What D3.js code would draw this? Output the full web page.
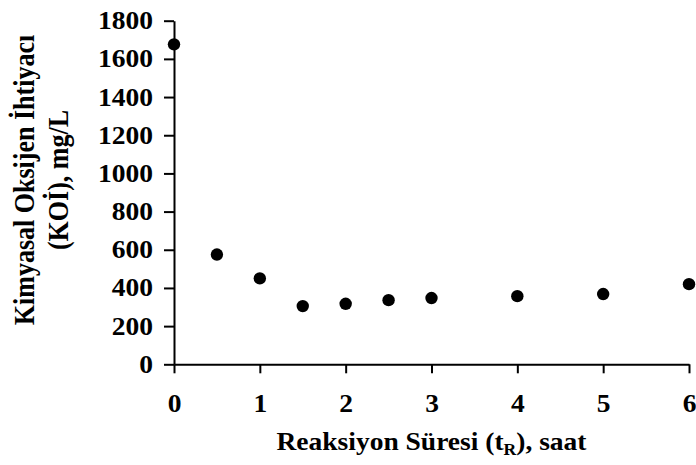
<!DOCTYPE html>
<html>
<head>
<meta charset="utf-8">
<script src="https://cdn.jsdelivr.net/npm/d3@7"></script>
<style>
  html, body { margin: 0; padding: 0; background: #fff; }
  svg text { font-family: "Liberation Serif", "Times New Roman", serif; font-weight: bold; fill: #000; }
</style>
</head>
<body>
<svg id="chart" width="696" height="465"></svg>
<script>
// Reaction time (hours) and COD (mg/L)
const times = [0, 0.5, 1, 1.5, 2, 2.5, 3, 4, 5, 6];
const cod = [1676, 575, 450, 305, 317, 336, 347, 357, 368, 420];
const xTicks = [0, 1, 2, 3, 4, 5, 6];
const yTicks = [0, 200, 400, 600, 800, 1000, 1200, 1400, 1600, 1800];

const svg = d3.select("#chart");
const margin = { left: 174, right: 7, top: 20.7, bottom: 100.7 };
const W = 696, H = 465;
const stretch = 1.1;   // slightly widened lettering
const tickFont = 25;

const x = d3.scaleLinear().domain([0, 6]).range([margin.left, W - margin.right]);
const y = d3.scaleLinear().domain([0, 1800]).range([H - margin.bottom, margin.top]);

const xAxis = d3.axisBottom(x).tickValues(xTicks).tickFormat(d3.format("d"))
  .tickSizeInner(9).tickSizeOuter(0).tickPadding(21);
const yAxis = d3.axisLeft(y).tickValues(yTicks).tickFormat(d3.format("d"))
  .tickSizeInner(10).tickSizeOuter(0);

const gx = svg.append("g").attr("transform", `translate(0,${y(0)})`).call(xAxis);
const gy = svg.append("g").attr("transform", `translate(${x(0)},0)`).call(yAxis);

[gx, gy].forEach(g => {
  g.selectAll("path.domain").attr("stroke", "#000").attr("stroke-width", 2);
  g.selectAll(".tick line").attr("stroke", "#000").attr("stroke-width", 2);
  g.selectAll(".tick text").attr("font-size", tickFont)
    .style("font-family", '"Liberation Serif", "Times New Roman", serif')
    .style("font-weight", "bold").attr("fill", "#000")
    .attr("transform", `scale(${stretch},1)`);
});
gy.selectAll(".tick text").attr("x", -21 / stretch);

// Data points
svg.append("g").selectAll("circle")
  .data(times.map((t, i) => ({ t, v: cod[i] })))
  .join("circle")
  .attr("cx", d => x(d.t))
  .attr("cy", d => y(d.v))
  .attr("r", 6.2)
  .attr("fill", "#000");

// X axis title with subscript
const xt = svg.append("text")
  .attr("transform", `translate(${(x(0) + x(6)) / 2},450) scale(${stretch},1)`)
  .attr("text-anchor", "middle")
  .attr("font-size", 25);
xt.append("tspan").text("Reaksiyon Süresi (t");
xt.append("tspan").attr("font-size", 16).attr("dy", 5).text("R");
xt.append("tspan").attr("dy", -5).text("), saat");

// Y axis title, two lines
const yc = 180;
const yt = svg.append("text")
  .attr("transform", `translate(34,${yc}) scale(${stretch},1) rotate(-90)`)
  .attr("text-anchor", "middle")
  .attr("font-size", 26);
yt.append("tspan").attr("x", 0).attr("y", 0).text("Kimyasal Oksijen İhtiyacı");
yt.append("tspan").attr("x", 0).attr("y", 31).text("(KOİ), mg/L");
</script>
</body>
</html>
